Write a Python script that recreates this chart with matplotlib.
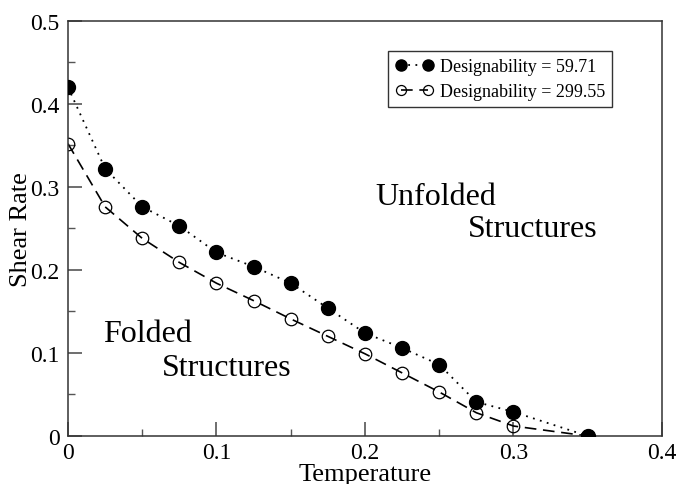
import numpy as np
import matplotlib
matplotlib.use('Agg')
import matplotlib.pyplot as plt

plt.rcParams['font.family'] = ['Liberation Serif', 'DejaVu Serif']

temperature = [0.0, 0.025, 0.05, 0.075, 0.1, 0.125, 0.15, 0.175, 0.2,
               0.225, 0.25, 0.275, 0.3, 0.35]
shear_low = [0.420, 0.322, 0.276, 0.253, 0.221, 0.204, 0.184, 0.154, 0.124,
             0.106, 0.086, 0.041, 0.029, 0.0]
shear_high = [0.352, 0.276, 0.238, 0.209, 0.184, 0.163, 0.141, 0.120, 0.099,
              0.076, 0.053, 0.028, 0.012, 0.0]
labels = ["Designability = 59.71", "Designability = 299.55"]
xticks = [0, 0.1, 0.2, 0.3, 0.4]
xticklabels = ['0', '0.1', '0.2', '0.3', '0.4']
yticks = [0, 0.1, 0.2, 0.3, 0.4, 0.5]
yticklabels = ['0', '0.1', '0.2', '0.3', '0.4', '0.5']

fig = plt.figure(figsize=(6.78, 4.85), dpi=100)
ax = fig.add_axes([0.1003, 0.099, 0.876, 0.856])

ax.plot(temperature, shear_high, linestyle=(0, (7, 4)), color='black', lw=1.2,
        marker='o', markersize=9, markerfacecolor='none',
        markeredgecolor='black', markeredgewidth=0.9, label=labels[1], zorder=2)
ax.plot(temperature, shear_low, linestyle=(0, (1, 3)), color='black', lw=1.3,
        marker='o', markersize=10, markerfacecolor='black',
        markeredgecolor='black', label=labels[0], zorder=3)

ax.set_xlim(0, 0.4)
ax.set_ylim(0, 0.5)
ax.set_xticks(xticks, xticklabels)
ax.set_yticks(yticks, yticklabels)
ax.set_xticks(np.arange(0.05, 0.4, 0.1), minor=True)
ax.set_yticks(np.arange(0.05, 0.5, 0.1), minor=True)
ax.tick_params(which='both', direction='in', top=False, right=False,
               labelsize=17, color='#555555')
ax.tick_params(which='major', length=10, width=1.2)
ax.tick_params(which='minor', length=5, width=1)
ax.tick_params(axis='x', pad=4)
ax.tick_params(axis='y', pad=6)
for s in ax.spines.values():
    s.set_linewidth(1.1)
    s.set_color('#333333')

ax.set_xlabel('Temperature', fontsize=19, labelpad=0)
ax.set_ylabel('Shear Rate', fontsize=19, labelpad=-1)

ax.text(0.2067, 0.288, 'Unfolded', fontsize=23, va='center', ha='left')
ax.text(0.269, 0.25, 'Structures', fontsize=23, va='center', ha='left')
ax.text(0.0236, 0.123, 'Folded', fontsize=23, va='center', ha='left')
ax.text(0.063, 0.083, 'Structures', fontsize=23, va='center', ha='left')

h, l = ax.get_legend_handles_labels()
leg = ax.legend(h[::-1], l[::-1], loc='upper right', bbox_to_anchor=(0.916, 0.928),
                fontsize=13, frameon=True, fancybox=False, edgecolor='black',
                numpoints=2, markerscale=0.8, handlelength=2.1, handletextpad=0.35,
                borderpad=0.4, labelspacing=0.45, borderaxespad=0)
leg.get_frame().set_linewidth(1.0)

fig.savefig('out.png', dpi=100)
